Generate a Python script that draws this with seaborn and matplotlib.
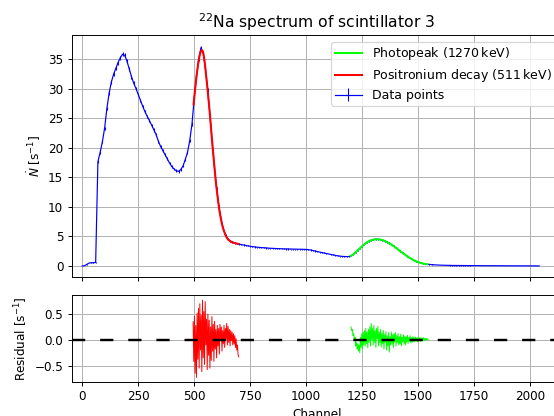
import numpy as np
import matplotlib
matplotlib.use("Agg")
import matplotlib.pyplot as plt
from matplotlib.ticker import MultipleLocator
import seaborn as sns

# Measured count rate of scintillator 3, one value every 10 channels (channel 0 ... 2040)
channel_step = 10
rate = [
    0.0, 0.05, 0.25, 0.5, 0.55, 0.55, 0.6,
    17.6, 19.2, 21.0, 23.3, 26.6, 29.2, 31.1, 32.4, 33.4, 34.4, 35.2, 35.8, 35.6, 34.6,
    33.3, 32.0, 30.9, 30.0, 29.0, 28.0, 27.0, 26.1, 25.3, 24.6,
    23.8, 23.0, 22.2, 21.1, 20.2, 19.5, 18.8, 18.1, 17.4, 16.8,
    16.4, 16.1, 16.0, 16.3, 16.9, 18.0, 19.2, 21.2, 24.0, 28.3,
    32.1, 35.0, 36.9, 36.0, 33.4, 29.8, 25.6, 21.0, 16.8, 13.2,
    10.1, 7.9, 6.3, 5.2, 4.6, 4.25, 4.05, 3.9, 3.8, 3.7,
    3.62, 3.55, 3.48, 3.41, 3.35, 3.27, 3.22, 3.18, 3.14, 3.11,
    3.08, 3.05, 3.02, 3.0, 2.98, 2.96, 2.94, 2.92, 2.9, 2.89,
    2.88, 2.87, 2.86, 2.85, 2.85, 2.84, 2.84, 2.83, 2.82, 2.8,
    2.76, 2.7, 2.62, 2.53, 2.44, 2.35, 2.27, 2.2, 2.12, 2.03,
    1.95, 1.87, 1.79, 1.72, 1.67, 1.63, 1.6, 1.59, 1.6, 1.7,
    1.95, 2.3, 2.66, 3.0, 3.36, 3.68, 3.98, 4.2, 4.37, 4.47,
    4.52, 4.52, 4.48, 4.38, 4.24, 4.06, 3.86, 3.62, 3.36, 3.08,
    2.79, 2.5, 2.22, 1.94, 1.67, 1.42, 1.19, 0.98, 0.8, 0.65,
    0.53, 0.43, 0.36, 0.3, 0.26, 0.23, 0.2, 0.18, 0.16, 0.14,
    0.13, 0.12, 0.11, 0.1, 0.1, 0.09, 0.09, 0.08, 0.08, 0.08,
    0.07, 0.07, 0.07, 0.06, 0.06, 0.06, 0.06, 0.05, 0.05, 0.05,
    0.05, 0.05, 0.04, 0.04, 0.04, 0.04, 0.04, 0.04, 0.03, 0.03,
    0.03, 0.03, 0.03, 0.03, 0.03, 0.02, 0.02, 0.02, 0.02, 0.02,
    0.02, 0.02, 0.01, 0.01,
]
live_time = 300.0  # s, sets the Poisson uncertainty of each rate

# Fitted 511 keV peak (start channel 497, every 5 channels)
pos_start, pos_step = 497, 5
pos_fit = [
    27.3, 29.2, 31.0, 32.6, 34.0, 35.2, 36.0, 36.5, 36.4, 35.7,
    34.4, 32.6, 30.8, 28.9, 26.9, 24.7, 22.4, 20.2, 18.1, 16.0,
    14.0, 12.4, 10.9, 9.5, 8.4, 7.4, 6.6, 6.0, 5.5, 5.0,
    4.7, 4.45, 4.3, 4.15, 4.05, 3.97, 3.92, 3.87, 3.82, 3.77, 3.73,
]

# Fitted 1270 keV photopeak (start channel 1200, every 10 channels)
photo_start, photo_step = 1200, 10
photo_fit = [
    1.72, 1.95, 2.3, 2.65, 3.0, 3.35, 3.68, 3.97, 4.2, 4.36,
    4.46, 4.51, 4.52, 4.48, 4.38, 4.24, 4.06, 3.86, 3.62, 3.36,
    3.08, 2.79, 2.5, 2.22, 1.94, 1.67, 1.42, 1.19, 0.98, 0.8,
    0.65, 0.53, 0.43, 0.36, 0.3,
]

# Fit residuals (every 3 channels)
res_step = 3
pos_res_start = 495
pos_res = [
    0.35, -0.42, 0.46, -0.65, 0.28, -0.73, 0.52, -0.38, 0.61, -0.55,
    0.70, -0.20, 0.48, -0.62, 0.77, -0.35, 0.55, -0.48, 0.74, -0.10,
    0.40, -0.58, 0.50, -0.30, 0.38, -0.55, 0.25, -0.40, 0.45, -0.22,
    0.30, -0.42, 0.36, -0.18, 0.20, -0.35, 0.28, -0.12, 0.22, -0.28,
    0.30, 0.02, 0.25, -0.22, 0.18, -0.08, 0.28, -0.15, 0.22, 0.00,
    0.32, -0.10, 0.26, -0.05, 0.20, -0.12, 0.18, -0.02, 0.15, -0.10,
    0.12, -0.08, 0.08, -0.15, 0.02, -0.20, -0.10, -0.30, -0.33,
]
photo_res_start = 1200
photo_res = [
    0.25, 0.18, 0.20, 0.08, 0.12, -0.02, 0.05, -0.12, -0.05, -0.18,
    -0.08, -0.22, -0.10, -0.25, 0.05, -0.15, 0.12, -0.18, 0.15, -0.10,
    0.18, -0.12, 0.22, -0.08, 0.15, -0.15, 0.20, -0.05, 0.25, -0.12,
    0.32, 0.00, 0.22, -0.10, 0.28, -0.05, 0.18, -0.15, 0.22, 0.02,
    0.26, -0.12, 0.15, -0.06, 0.20, -0.14, 0.12, -0.08, 0.18, -0.18,
    0.10, -0.05, 0.16, -0.20, 0.08, -0.12, 0.14, -0.24, 0.06, -0.10,
    0.15, -0.08, 0.10, -0.15, 0.12, -0.04, 0.14, -0.12, 0.08, -0.06,
    0.12, -0.10, 0.06, -0.08, 0.11, -0.12, 0.05, -0.04, 0.10, -0.08,
    0.07, -0.10, 0.06, -0.05, 0.09, -0.07, 0.05, -0.03, 0.08, -0.06,
    0.04, -0.05, 0.06, -0.03, 0.05, -0.04, 0.05, -0.02, 0.04, -0.04,
    0.05, -0.02, 0.04, -0.03, 0.04, -0.02, 0.03, -0.02, 0.04, -0.01,
    0.03, -0.02, 0.03, 0.00, 0.02, 0.01,
]

rate = np.asarray(rate)
ch = np.arange(len(rate)) * channel_step
rate_err = np.sqrt(rate / live_time)
pos_ch = pos_start + np.arange(len(pos_fit)) * pos_step
photo_ch = photo_start + np.arange(len(photo_fit)) * photo_step
pos_res_ch = pos_res_start + np.arange(len(pos_res)) * res_step
photo_res_ch = photo_res_start + np.arange(len(photo_res)) * res_step

DPI = 554 / 6.4
fig = plt.figure(figsize=(6.4, 4.806), dpi=DPI)
ax1 = fig.add_axes([0.1294, 0.3334, 0.8843, 0.5817])
ax2 = fig.add_axes([0.1294, 0.0829, 0.8843, 0.2080])

# Spectrum with error bars and the two peak fits
ax1.errorbar(ch, rate, yerr=rate_err, color="blue", lw=1.0, elinewidth=0.9,
             label="Data points", zorder=2)
sns.lineplot(x=photo_ch, y=photo_fit, color="lime", lw=1.7, ax=ax1, zorder=3,
             errorbar=None, label=r"Photopeak (1270$\,$keV)")
sns.lineplot(x=pos_ch, y=pos_fit, color="red", lw=1.7, ax=ax1, zorder=3,
             errorbar=None, label=r"Positronium decay (511$\,$keV)")
ax1.legend(loc="upper right", fontsize=10.45, borderpad=0.28, labelspacing=0.4,
           handlelength=2.2, handletextpad=0.77)

ax1.set_xlim(-47, 2140)
ax1.set_ylim(-1.91, 39.0)
ax1.xaxis.set_major_locator(MultipleLocator(250))
ax1.yaxis.set_major_locator(MultipleLocator(5))
ax1.tick_params(labelbottom=False)
ax1.grid(True)
ax1.set_title(r"$^{22}$Na spectrum of scintillator 3", fontsize=13)
ax1.set_ylabel(r"$\dot{N}$ [s$^{-1}$]")

# Residual panel
sns.lineplot(x=pos_res_ch, y=pos_res, color="red", lw=0.8, ax=ax2, errorbar=None)
sns.lineplot(x=photo_res_ch, y=photo_res, color="lime", lw=0.8, ax=ax2, errorbar=None)
ax2.axhline(0, color="black", lw=2, ls=(0, (5.5, 6.2)))
ax2.set_xlim(-47, 2140)
ax2.set_ylim(-0.81, 0.87)
ax2.xaxis.set_major_locator(MultipleLocator(250))
ax2.yaxis.set_major_locator(MultipleLocator(0.5))
ax2.grid(True)
ax2.set_xlabel("Channel")
ax2.set_ylabel(r"Residual [s$^{-1}$]")

fig.savefig("out.png", dpi=DPI)
